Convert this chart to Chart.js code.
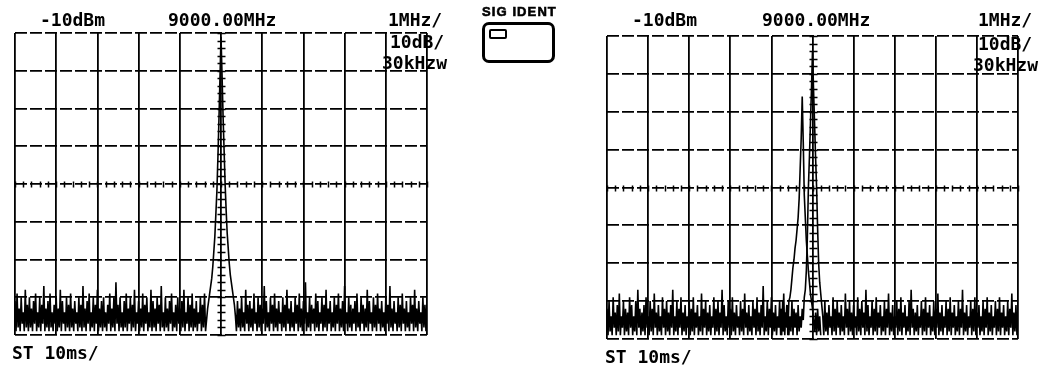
<!DOCTYPE html>
<html>
<head>
<meta charset="utf-8">
<script src="https://cdn.jsdelivr.net/npm/chart.js@4.4.1/dist/chart.umd.min.js"></script>
<style>
  html, body { margin: 0; padding: 0; background: #fff; }
  body { position: relative; width: 1045px; height: 369px; overflow: hidden; }
  canvas { position: absolute; }
  .ann {
    position: absolute;
    font-family: "DejaVu Sans Mono", monospace;
    font-weight: bold;
    font-size: 18px;
    line-height: 18px;
    color: #000;
    white-space: pre;
  }
  .sig-title {
    position: absolute; left: 482px; top: 5px;
    font-family: "Liberation Sans", Arial, sans-serif;
    font-weight: bold; font-size: 13px; line-height: 13px;
    letter-spacing: 1.1px; color: #000; white-space: pre;
    -webkit-text-stroke: 0.6px #000;
  }
  .sig-box {
    position: absolute; left: 482px; top: 22px; width: 67px; height: 35px;
    border: 3.5px solid #000; border-radius: 7px;
  }
  .sig-led {
    position: absolute; left: 489px; top: 29px; width: 14px; height: 6px;
    border: 2px solid #000; border-radius: 2px;
  }
</style>
</head>
<body>

<canvas id="screenA" width="440" height="345" style="left:0;top:0"></canvas>
<canvas id="screenB" width="455" height="350" style="left:590px;top:0"></canvas>

<!-- screen A annotation -->
<div class="ann" style="left:40px;top:11px">-10dBm</div>
<div class="ann" style="left:168px;top:11px">9000.00MHz</div>
<div class="ann" style="left:388px;top:11px">1MHz/</div>
<div class="ann" style="left:390px;top:33px">10dB/</div>
<div class="ann" style="left:382px;top:54px">30kHzw</div>
<div class="ann" style="left:12px;top:344px">ST 10ms/</div>

<!-- signal identification indicator -->
<div class="sig-title">SIG IDENT</div>
<div class="sig-box"></div>
<div class="sig-led"></div>

<!-- screen B annotation -->
<div class="ann" style="left:632px;top:11px">-10dBm</div>
<div class="ann" style="left:762px;top:11px">9000.00MHz</div>
<div class="ann" style="left:978px;top:11px">1MHz/</div>
<div class="ann" style="left:978px;top:35px">10dB/</div>
<div class="ann" style="left:973px;top:56px">30kHzw</div>
<div class="ann" style="left:605px;top:348px">ST 10ms/</div>

<script>
// Sweep settings: centre 9000 MHz, 1 MHz/div over 10 divisions, 401 points
const CENTER_MHZ = 9000;
const SPAN_MHZ = 10;
const SWEEP_POINTS = 401;
// Amplitude: reference level -10 dBm at top, 10 dB/div over 8 divisions
const REF_LEVEL_DBM = -10;
const BOTTOM_LEVEL_DBM = -90;

// Trace levels in dBm, one per sweep point (screen A: single response)
const traceA = [
  -81,-89,-79,-88,-83,-89,-80,-87,-84,-89,-78,-88,-82,-89,-80,-88,-83,-89,-81,-87,
  -79,-89,-84,-88,-80,-89,-82,-87,-77,-89,-83,-88,-81,-89,-79,-88,-84,-89,-82,-87,
  -80,-89,-83,-88,-78,-89,-81,-87,-84,-89,-80,-88,-82,-89,-79,-88,-83,-89,-81,-87,
  -84,-89,-80,-88,-82,-89,-77,-88,-83,-89,-81,-87,-79,-89,-84,-88,-80,-89,-82,-87,
  -78,-89,-83,-88,-81,-89,-80,-88,-84,-89,-82,-87,-79,-89,-83,-88,-80,-89,-76,-87,
  -82,-89,-80,-88,-84,-89,-81,-88,-79,-89,-83,-87,-80,-89,-82,-88,-78,-89,-84,-87,
  -81,-89,-83,-88,-79,-89,-82,-87,-80,-89,-84,-88,-78,-89,-81,-88,-83,-89,-80,-87,
  -82,-89,-77,-88,-84,-89,-80,-88,-83,-89,-81,-87,-79,-89,-84,-88,-82,-89,-80,-87,
  -83,-89,-81,-88,-78,-89,-84,-87,-80,-89,-82,-88,-79,-89,-83,-88,-81,-89,-84,-87,
  -80,-89,-82,-88,-79,-89,-86,-83,-81,-79,-77,-75,-72,-68,-64,-58,-52,-43,-33,-22,
  -11,-21,-32,-41,-50,-57,-63,-67,-71,-74,-76,-78,-80,-82,-85,-89,-81,-88,-83,-89,
  -80,-88,-84,-89,-78,-87,-82,-89,-81,-88,-83,-89,-79,-87,-84,-89,-80,-88,-82,-89,
  -83,-87,-77,-89,-81,-88,-84,-89,-80,-87,-82,-89,-79,-88,-83,-89,-81,-87,-84,-89,
  -80,-88,-82,-89,-78,-87,-83,-89,-81,-88,-84,-89,-80,-87,-82,-89,-79,-88,-83,-89,
  -81,-87,-76,-89,-84,-88,-80,-89,-82,-87,-83,-89,-79,-88,-81,-89,-84,-87,-80,-89,
  -82,-88,-78,-89,-83,-87,-81,-89,-84,-88,-80,-89,-82,-87,-79,-89,-83,-88,-81,-89,
  -77,-87,-84,-89,-80,-88,-82,-89,-83,-87,-81,-89,-79,-88,-84,-89,-80,-87,-82,-89,
  -83,-88,-78,-89,-81,-87,-84,-89,-80,-88,-82,-89,-79,-87,-83,-89,-81,-88,-84,-89,
  -80,-87,-82,-89,-77,-88,-83,-89,-81,-87,-84,-89,-80,-88,-82,-89,-79,-87,-83,-89,
  -81,-88,-84,-89,-80,-87,-82,-89,-78,-88,-83,-89,-81,-87,-84,-89,-80,-88,-82,-89,
  -81
];

// Screen B: true response at centre
const traceB = [
  -82,-89,-80,-88,-84,-89,-79,-87,-83,-89,-81,-88,-78,-89,-84,-87,-80,-89,-82,-88,
  -83,-89,-79,-87,-81,-89,-84,-88,-80,-89,-77,-87,-82,-89,-83,-88,-81,-89,-79,-87,
  -84,-89,-80,-88,-82,-89,-78,-87,-83,-89,-81,-88,-84,-89,-79,-87,-82,-89,-80,-88,
  -83,-89,-81,-87,-77,-89,-84,-88,-80,-89,-82,-87,-79,-89,-83,-88,-81,-89,-84,-87,
  -80,-89,-82,-88,-79,-89,-83,-87,-81,-89,-84,-88,-78,-89,-82,-87,-80,-89,-83,-88,
  -81,-89,-84,-87,-79,-89,-82,-88,-80,-89,-83,-87,-77,-89,-81,-88,-84,-89,-80,-87,
  -82,-89,-79,-88,-83,-89,-81,-87,-84,-89,-80,-88,-82,-89,-78,-87,-83,-89,-81,-88,
  -84,-89,-80,-87,-82,-89,-79,-88,-83,-89,-81,-87,-76,-89,-84,-88,-80,-89,-82,-87,
  -79,-89,-83,-88,-81,-89,-84,-87,-80,-89,-82,-88,-78,-89,-83,-87,-81,-89,-84,-88,
  -80,-89,-82,-87,-83,-89,-81,-88,-84,-87,-82,-85,-79,-77,-72,-63,-50,-42,-33,-24,
  -14,-24,-33,-42,-50,-61,-70,-75,-78,-81,-84,-89,-80,-88,-83,-89,-81,-87,-84,-89,
  -79,-88,-82,-89,-80,-87,-83,-89,-81,-88,-84,-89,-78,-87,-82,-89,-80,-88,-83,-89,
  -81,-87,-84,-89,-79,-88,-82,-89,-80,-87,-83,-89,-77,-88,-81,-89,-84,-87,-80,-89,
  -82,-88,-79,-89,-83,-87,-81,-89,-84,-88,-80,-89,-82,-87,-78,-89,-83,-88,-81,-89,
  -84,-87,-80,-89,-82,-88,-79,-89,-83,-87,-81,-89,-84,-88,-80,-89,-77,-87,-82,-89,
  -83,-88,-81,-89,-84,-87,-80,-89,-82,-88,-79,-89,-83,-87,-81,-89,-84,-88,-80,-89,
  -82,-87,-78,-89,-83,-88,-81,-89,-84,-87,-80,-89,-82,-88,-79,-89,-83,-87,-81,-89,
  -84,-88,-80,-89,-82,-87,-77,-89,-83,-88,-81,-89,-84,-87,-80,-89,-82,-88,-79,-89,
  -83,-87,-81,-89,-84,-88,-80,-89,-82,-87,-79,-89,-83,-88,-81,-89,-84,-87,-80,-89,
  -82,-88,-79,-89,-83,-87,-81,-89,-84,-88,-80,-89,-82,-87,-78,-89,-83,-88,-81,-89,
  -84
];

// Screen B: shifted (image) response sweep, starting at sweep point 168
const imageStartPoint = 168;
const imageTraceB = [
  -87,-82,-89,-80,-88,-83,-86,-81,-89,-80,
  -79,-77,-74,-71,-69,-66,-64,-61,-58,-53,
  -45,-37,-26,-38,-52,-58,-64,-68,-72,-75,
  -78,-80,-82,-85,-88,-83,-89,-82,-88,-84,-89
];

function sweepFreq(i) {
  return CENTER_MHZ - SPAN_MHZ / 2 + (i * SPAN_MHZ) / (SWEEP_POINTS - 1);
}
function toPoints(levels, start) {
  return levels.map((v, k) => ({ x: sweepFreq(start + k), y: v }));
}

// small crossing marks along the centre graticule lines
const centreMarks = {
  id: 'centreMarks',
  beforeDatasetsDraw(chart) {
    const { ctx, scales: { x, y } } = chart;
    const cx = Math.round(x.getPixelForValue(CENTER_MHZ)) + 0.5;
    const cy = Math.round(y.getPixelForValue((REF_LEVEL_DBM + BOTTOM_LEVEL_DBM) / 2)) + 0.5;
    ctx.save();
    ctx.strokeStyle = '#000';
    ctx.lineWidth = 1.5;
    ctx.beginPath();
    for (let k = 0; k <= 50; k++) {
      const px = Math.round(x.getPixelForValue(CENTER_MHZ - SPAN_MHZ / 2 + k * 0.2)) + 0.5;
      ctx.moveTo(px, cy - 3); ctx.lineTo(px, cy + 3);
    }
    for (let k = 0; k <= 40; k++) {
      const py = Math.round(y.getPixelForValue(BOTTOM_LEVEL_DBM + k * 2)) + 0.5;
      ctx.moveTo(cx - 4, py); ctx.lineTo(cx + 4, py);
    }
    ctx.stroke();
    ctx.restore();
  }
};

function makeScreen(id, datasets, pad) {
  return new Chart(document.getElementById(id), {
    type: 'line',
    data: { datasets },
    options: {
      responsive: false,
      animation: false,
      events: [],
      layout: { padding: pad },
      plugins: { legend: { display: false }, tooltip: { enabled: false } },
      scales: {
        x: {
          type: 'linear',
          min: CENTER_MHZ - SPAN_MHZ / 2,
          max: CENTER_MHZ + SPAN_MHZ / 2,
          ticks: { display: false, stepSize: 1 },
          grid: { color: '#000', lineWidth: 1.8, drawTicks: false },
          border: { display: false }
        },
        y: {
          min: BOTTOM_LEVEL_DBM,
          max: REF_LEVEL_DBM,
          ticks: { display: false, stepSize: 10 },
          grid: { color: '#000', lineWidth: 1.8, drawTicks: false },
          border: { display: false, dash: [12, 3] }
        }
      }
    },
    plugins: [centreMarks]
  });
}

const traceStyle = {
  borderColor: '#000',
  borderWidth: 1.6,
  pointRadius: 0,
  tension: 0,
  fill: false
};

makeScreen('screenA',
  [{ ...traceStyle, data: toPoints(traceA, 0) }],
  { left: 15, top: 33, right: 13, bottom: 10 });

makeScreen('screenB',
  [
    { ...traceStyle, data: toPoints(traceB, 0) },
    { ...traceStyle, data: toPoints(imageTraceB, imageStartPoint) }
  ],
  { left: 17, top: 36, right: 27, bottom: 11 });
</script>
</body>
</html>
